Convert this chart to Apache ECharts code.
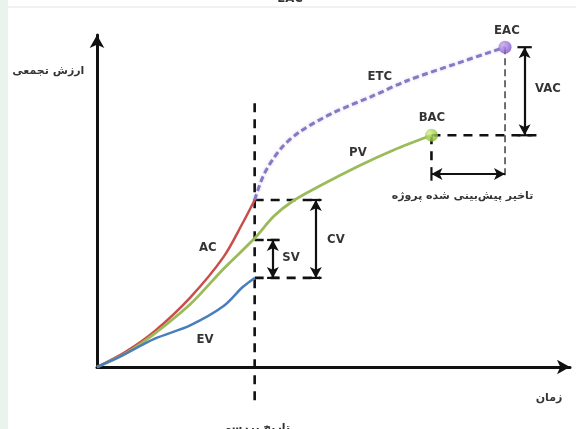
<!DOCTYPE html>
<html>
<head>
<meta charset="utf-8">
<script src="https://cdn.jsdelivr.net/npm/echarts@6/dist/echarts.min.js"></script>
<style>
html,body{margin:0;padding:0;background:#fff;}
#chart{width:576px;height:429px;}
</style>
</head>
<body>
<div id="chart"></div>
<script>
// ---- data (time units 0..99, value units 0..98) ----
const statusX = 33;
const acData  = [[0,0],[6,4.5],[12,10.5],[19.5,20.5],[26.5,32.5],[30.5,42.5],[33,49.3]];
const pvData  = [[0,0],[6,4],[12,9.8],[19.5,18.5],[26.5,29],[33,38],[37,44.5],[41,49],[46,53],[55,59.5],[62,64],[70,68.4]];
const evData  = [[0,0],[5,3.2],[12,8.3],[19.5,12.3],[26.5,18],[30.5,23.6],[33,26.3]];
const etcData = [[33,49.3],[35,57],[38.5,64.5],[42.5,69.5],[49.4,75],[57.7,80],[64.9,84.5],[75.3,89.6],[85.4,94.4]];
const bacPoint = [70, 68.4];
const eacPoint = [85.4, 94.4];

// annotation values
const cvTop = 49.3, cvBottom = 26.3, svTop = 37.5;
const forecastDelayY = 57;

const textLabels = [
  {name:'AC', value:[23.2,35.1]},
  {name:'EV', value:[22.6,8.0]},
  {name:'PV', value:[54.6,63.4]},
  {name:'ETC', value:[59.2,85.6]},
  {name:'BAC', value:[70.1,73.6]},
  {name:'EAC', value:[85.8,99.4]},
  {name:'VAC', value:[94.4,82.3]},
  {name:'CV', value:[50.0,37.6]},
  {name:'SV', value:[40.6,32.2]},
  {name:'EAC', value:[40.4,108.8]}
];
const faLabels = [
  {name:'تاخیر پیش‌بینی شده پروژه', value:[76.5,50.3]},
  {name:'زمان', value:[94.6,-9.1]},
  {name:'ارزش تجمعی', value:[-10.2,87.2]},
  {name:'تاریخ بررسی', value:[33.1,-18.0]}
];

// dashed / plain segments: [from, to, kind]
const segments = [
  [[statusX,-9.8],[statusX,78.8],'thick'],
  [[statusX,cvTop],[46.7,cvTop],'thick'],
  [[statusX,cvBottom],[46.7,cvBottom],'thick'],
  [[statusX,svTop],[38.3,svTop],'thick'],
  [[70,68.4],[92.7,68.4],'thick'],
  [[70,68.4],[70,59.5],'thick'],
  [[85.4,94.4],[85.4,56.2],'thin'],
  [[44.6,cvTop],[47.0,cvTop],'solid'],
  [[44.6,cvBottom],[47.0,cvBottom],'solid'],
  [[35.6,svTop],[38.0,svTop],'solid'],
  [[35.6,cvBottom],[38.0,cvBottom],'solid'],
  [[88.0,94.4],[91.0,94.4],'solid'],
  [[88.0,68.4],[91.0,68.4],'solid'],
  [[70,forecastDelayY-2],[70,forecastDelayY+2],'solid']
];
const doubleArrows = [
  [[45.8,cvTop],[45.8,cvBottom]],
  [[36.8,svTop],[36.8,cvBottom]],
  [[89.5,94.4],[89.5,68.4]],
  [[70,forecastDelayY],[85.4,forecastDelayY]]
];

const segStyles = {
  thick:{color:'#111',width:2.6,type:[9,7]},
  thin:{color:'#222',width:1.3,type:[7,4]},
  solid:{color:'#111',width:2.2,type:'solid'}
};

const series = [];
segments.forEach(s=>{
  series.push({type:'line',data:[s[0],s[1]],symbol:'none',silent:true,clip:false,
    lineStyle:segStyles[s[2]],z:3,animation:false});
});
series.push({type:'line',data:[],symbol:'none',silent:true,clip:false,animation:false,
  markLine:{silent:true,symbol:['arrow','arrow'],symbolSize:[9,11],label:{show:false},
    lineStyle:{color:'#111',width:2.2,type:'solid'},animation:false,
    data:doubleArrows.map(a=>[{coord:a[0]},{coord:a[1]}])}});

const curveCommon = {type:'line',smooth:0.3,symbol:'none',clip:false};
series.push(Object.assign({name:'ETC',data:etcData,z:4,
  lineStyle:{color:'#8878c4',width:3,type:[6,3.5],shadowColor:'rgba(150,130,210,0.45)',shadowBlur:3}},curveCommon));
series.push(Object.assign({name:'AC',data:acData,z:5,lineStyle:{color:'#cc4c4c',width:2.5}},curveCommon));
series.push(Object.assign({name:'PV',data:pvData,z:5,lineStyle:{color:'#9bbb59',width:2.8}},curveCommon));
series.push(Object.assign({name:'EV',data:evData,z:5,lineStyle:{color:'#4a7ebb',width:2.5}},curveCommon));
series.push({type:'scatter',data:[bacPoint],symbolSize:13,z:6,clip:false,
  itemStyle:{color:new echarts.graphic.RadialGradient(0.35,0.35,0.7,[{offset:0,color:'#d6f08a'},{offset:1,color:'#7fb52e'}])}});
series.push({type:'scatter',data:[eacPoint],symbolSize:13,z:6,clip:false,
  itemStyle:{color:new echarts.graphic.RadialGradient(0.35,0.35,0.7,[{offset:0,color:'#c3a8f0'},{offset:1,color:'#7a52c4'}])}});

series.push({type:'scatter',data:textLabels,symbolSize:0,silent:true,clip:false,z:7,
  label:{show:true,position:'inside',formatter:'{b}',color:'#000',fontSize:13,fontWeight:'bold',
    fontFamily:'"DejaVu Sans Condensed","Liberation Sans Narrow","Liberation Sans",sans-serif'}});
series.push({type:'scatter',data:faLabels,symbolSize:0,silent:true,clip:false,z:7,
  label:{show:true,position:'inside',formatter:'{b}',color:'#000',fontSize:11,fontWeight:'bold',
    fontFamily:'"DejaVu Sans",sans-serif'}});

const chart = echarts.init(document.getElementById('chart'));
chart.setOption({
  animation:false,
  backgroundColor:'#fff',
  graphic:[
    {type:'rect',shape:{x:0,y:0,width:8,height:429},style:{fill:'#e9f4ec'},silent:true,z:-1},
    {type:'line',shape:{x1:8,y1:7,x2:576,y2:7},style:{stroke:'#e3e3e3',lineWidth:1},silent:true,z:-1}
  ],
  grid:{left:97,right:6,top:35,bottom:62},
  xAxis:{type:'value',min:0,max:99,
    axisLine:{show:true,onZero:false,symbol:['none','arrow'],symbolSize:[11,13],lineStyle:{color:'#111',width:3}},
    axisTick:{show:false},axisLabel:{show:false},splitLine:{show:false}},
  yAxis:{type:'value',min:0,max:98,
    axisLine:{show:true,onZero:false,symbol:['none','arrow'],symbolSize:[11,13],lineStyle:{color:'#111',width:3}},
    axisTick:{show:false},axisLabel:{show:false},splitLine:{show:false}},
  series:series
});
</script>
</body>
</html>
